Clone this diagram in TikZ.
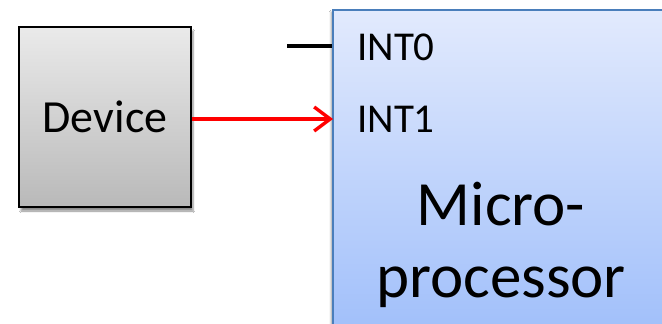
\documentclass[tikz,border=0pt]{standalone}
\usepackage{fontspec}
\setmainfont{Carlito}
\usetikzlibrary{arrows.meta,shadows.blur}
\definecolor{devtop}{HTML}{EAEAEA}
\definecolor{devbot}{HTML}{B9B9B9}
\definecolor{mptop}{HTML}{E2EAFD}
\definecolor{mpbot}{HTML}{9DBDFA}
\definecolor{mpline}{HTML}{4A7EBB}
\tikzset{
  devbox/.style={draw=black, line width=1.8pt, top color=devtop, bottom color=devbot,
    minimum width=172pt, minimum height=180pt, inner sep=0pt,
    blur shadow={shadow xshift=2pt, shadow yshift=-4pt, shadow blur steps=6, shadow opacity=45},
    font=\fontsize{46}{50}\selectfont},
  mpbox/.style={draw=mpline, line width=1.2pt, top color=mptop, bottom color=mpbot,
    minimum width=360pt, minimum height=340pt, inner sep=0pt,
    blur shadow={shadow xshift=-2pt, shadow yshift=-2pt, shadow blur steps=5, shadow opacity=35}},
  pinlabel/.style={anchor=base west, inner sep=0pt, font=\fontsize{41}{45}\selectfont},
  bigtext/.style={anchor=base, inner sep=0pt, font=\fontsize{63}{72}\selectfont},
  wire/.style={line width=3.6pt},
  redwire/.style={line width=3.2pt, red, -{Straight Barb[length=16pt,width=24pt,line width=3.4pt]}}
}
\begin{document}
\begin{tikzpicture}[x=1pt,y=-1pt]
\useasboundingbox (0,0) rectangle (662,324);
\clip (0,0) rectangle (662,324);
\fill[white] (0,0) rectangle (662,324);
\node[mpbox] (mp) at (513,180) {};
\node[devbox] (dev) at (105,117) {Device};
\node[pinlabel] (int0) at (357,60) {INT0};
\node[pinlabel] (int1) at (357,132) {INT1};
\node[bigtext] (mpt1) at (501,225) {Micro-};
\node[bigtext] (mpt2) at (501,297) {processor};
\coordinate (w0) at (287,46);
\coordinate (p0) at (mp.west |- w0);
\coordinate (p1) at (333,119);
\draw[wire] (w0) -- (p0);
\draw[redwire] (dev.east |- p1) -- (p1);
\end{tikzpicture}
\end{document}
